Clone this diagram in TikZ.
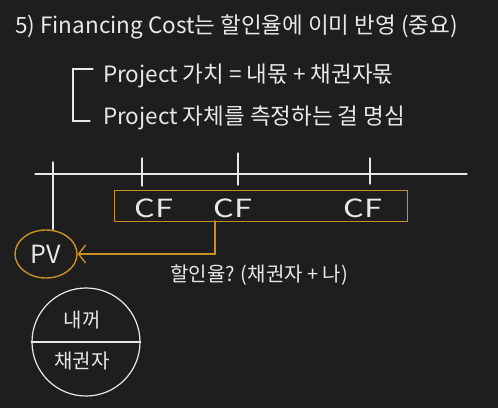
\documentclass[tikz,border=0pt]{standalone}
\usepackage{fontspec}
\usepackage{tikz}
\usetikzlibrary{arrows.meta,calc,positioning,shapes.geometric}
\newfontfamily\hangul{Noto Sans CJK KR}
\definecolor{boardbg}{RGB}{30,30,30}
\definecolor{chalk}{RGB}{232,232,232}
\definecolor{marker}{RGB}{200,145,35}
\tikzset{
  note/.style={font=\hangul\fontsize{22.5}{26}\selectfont,text=chalk,inner sep=0pt},
  small/.style={font=\hangul\fontsize{20}{24}\selectfont,text=chalk,inner sep=0pt},
  big/.style={font=\hangul\fontsize{25}{30}\selectfont,text=chalk,inner sep=0pt},
  chalkline/.style={draw=chalk,line width=1.2pt,line cap=round},
  markerline/.style={draw=marker,line width=1.4pt,line cap=round}
}
\begin{document}
\begin{tikzpicture}[x=1pt,y=-1pt]
  \fill[boardbg] (0,0) rectangle (498,408);
  \useasboundingbox (0,0) rectangle (498,408);
  % notes
  \node[note,anchor=west] (title) at (15,27) {5) Financing Cost는 할인율에 이미 반영 (중요)};
  \node[note,anchor=west] (value) at (103,76) {Project 가치 = 내몫 + 채권자몫};
  \node[note,anchor=west] (whole) at (103,118) {Project 자체를 측정하는 걸 명심};
  \draw[chalkline] (93,69) -- (73,69) -- (73,121) -- (90,121);
  % time line
  \coordinate (tl) at (35,174);
  \coordinate (tr) at (467,174);
  \draw[chalkline] (tl) -- (tr);
  \foreach \tx/\ta/\tb in {142/158/186,238/153/185,370/158/184}
    \draw[chalkline] (\tx,\ta) -- (\tx,\tb);
  % cash flows
  \node[draw=marker,line width=1.4pt,minimum width=293pt,minimum height=31pt,inner sep=0pt] (cfbox) at (261,206) {};
  \node[big,xscale=1.3] (cf1) at (154,208) {CF};
  \node[big,xscale=1.3] (cf2) at (233,208) {CF};
  \node[big,xscale=1.3] (cf3) at (363,208) {CF};
  % present value
  \node[ellipse,draw=marker,line width=1.4pt,minimum width=62pt,minimum height=48pt,big] (pv) at (46,254) {PV};
  \coordinate (pvtop) at (53,162);
  \draw[chalkline] (pvtop) -- (pv.north -| pvtop);
  \coordinate (drop) at (215,221);
  \draw[markerline,-{Straight Barb[length=7pt,width=18pt]}] (drop) |- (pv.east);
  \node[small,anchor=west] (rate) at (170,275) {할인율? (채권자 + 나)};
  % whose share
  \node[circle,draw=chalk,line width=1.2pt,minimum size=108pt] (pie) at (86,342) {};
  \draw[chalkline] (pie.west) -- (pie.east);
  \node[small] (mine) at (82,320) {내꺼};
  \node[small] (lender) at (82,361) {채권자};
\end{tikzpicture}
\end{document}
